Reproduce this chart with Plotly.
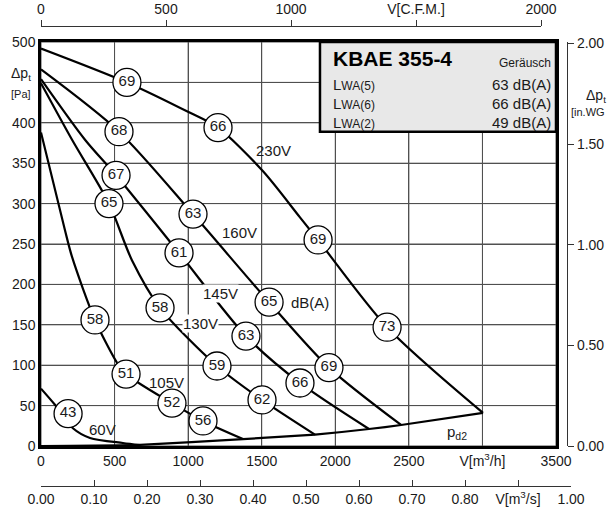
import plotly.graph_objects as go

# ---------------- data ----------------
# characteristic curves: volume flow V [m3/h] vs total pressure dp_t [Pa]
v230_V = [0, 584, 1006, 1203, 1509, 1760, 1883, 2352, 3004]
v230_P = [492, 450, 413, 394, 340, 283, 255, 147, 41]

v160_V = [0, 530, 1033, 1550, 1957, 2447]
v160_P = [466, 389, 287, 178, 97, 26]

v145_V = [0, 299, 510, 938, 1393, 1760, 2229]
v145_P = [454, 379, 335, 239, 136, 78, 21]

v130_V = [0, 211, 462, 618, 809, 1196, 1502, 1862]
v130_P = [449, 379, 300, 230, 171, 99, 57, 14]

v105_V = [0, 163, 211, 367, 517, 578, 890, 1101, 1373]
v105_P = [388, 267, 234, 156, 103, 89, 53, 31, 8.6]

v60_V = [0, 95, 217, 333, 557, 673]
v60_P = [71, 51, 22, 10, 3.7, 1.2]

# dynamic pressure line p_d2
pd2_V = [0, 673, 1373, 1862, 2229, 2447, 3004]
pd2_P = [0, 1.5, 8.6, 14, 21, 26, 41]

# sound level markers dB(A)
snd_V = [584, 1203, 1883, 2352, 530, 1033, 1550, 1957, 510, 938, 1393, 1760,
         462, 809, 1196, 1502, 367, 578, 890, 1101, 184]
snd_P = [450, 394, 255, 147, 389, 287, 178, 97, 335, 239, 136, 78,
         300, 171, 99, 57, 156, 89, 53, 31, 40]
snd_L = ["69", "66", "69", "73", "68", "63", "65", "69", "67", "61", "63", "66",
         "65", "58", "59", "62", "58", "51", "52", "56", "43"]

# voltage labels
volt_txt = ["230V", "160V", "145V", "130V", "105V", "60V"]
volt_V = [1577, 1352, 1217, 1081, 856, 421]
volt_P = [366, 264, 189, 151, 79, 21]
volt_bg = [False, False, True, True, False, False]

# axes
x_ticks = [0, 500, 1000, 1500, 2000, 2500, 3000, 3500]
x_text = ["0", "500", "1000", "1500", "2000", "2500", "V[m<sup>3</sup>/h]", "3500"]
y_ticks = [0, 50, 100, 150, 200, 250, 300, 350, 400, 450, 500]
y_text = ["0", "50", "100", "150", "200", "250", "300", "350", "400", "", "500"]
cfm_ticks = [0, 500, 1000, 1500, 2000]
cfm_text = ["0", "500", "1000", "V[C.F.M.]", "2000"]
ms_ticks = [0, 0.1, 0.2, 0.3, 0.4, 0.5, 0.6, 0.7, 0.8, 0.9, 1.0]
ms_text = ["0.00", "0.10", "0.20", "0.30", "0.40", "0.50", "0.60", "0.70", "0.80",
           "V[m<sup>3</sup>/s]", "1.00"]
wg_ticks = [0, 0.5, 1.0, 1.5, 2.0]
wg_text = ["0.00", "0.50", "1.00", "1.50", "2.00"]

# info box
box_title = "KBAE 355-4"
box_sub = "Geräusch"
box_rows = ["(5)", "(6)", "(2)"]
box_vals = ["63 dB(A)", "66 dB(A)", "49 dB(A)"]

# ---------------- figure ----------------
W, H = 611, 513
FONT = "Liberation Sans, Arial, sans-serif"
TXT = "#1a1a1a"
GRID = "#505050"


def px(x):
    return x / W


def py(y):
    return 1 - y / H


fig = go.Figure()

# grid built from the tick arrays (drawn first, beneath the curves)
grid_x, grid_y = [], []
for xv in x_ticks:
    grid_x += [xv, xv, None]
    grid_y += [y_ticks[0], y_ticks[-1], None]
for yv in y_ticks:
    grid_x += [x_ticks[0], x_ticks[-1], None]
    grid_y += [yv, yv, None]
fig.add_trace(go.Scatter(x=grid_x, y=grid_y, mode="lines",
                         line=dict(color=GRID, width=1),
                         hoverinfo="skip", showlegend=False))

line_style = dict(color="black", width=2.2, shape="spline", smoothing=0.8)
for vv, pp in [(v230_V, v230_P), (v160_V, v160_P), (v145_V, v145_P),
               (v130_V, v130_P), (v105_V, v105_P), (v60_V, v60_P)]:
    fig.add_trace(go.Scatter(x=vv, y=pp, mode="lines", line=line_style,
                             hoverinfo="skip", showlegend=False))

fig.add_trace(go.Scatter(x=pd2_V, y=pd2_P, mode="lines",
                         line=dict(color="black", width=2.2, shape="spline", smoothing=0.4),
                         hoverinfo="skip", showlegend=False))

fig.add_trace(go.Scatter(x=snd_V, y=snd_P, mode="markers+text", text=snd_L,
                         textposition="middle center",
                         textfont=dict(family=FONT, size=15, color=TXT),
                         marker=dict(size=28, color="white",
                                     line=dict(color="black", width=1.3)),
                         hoverinfo="skip", showlegend=False))

# dummy traces to bind secondary axes (each on its own thin strip subplot)
fig.add_trace(go.Scatter(x=[None], y=[None], xaxis="x2", yaxis="y3", showlegend=False))
fig.add_trace(go.Scatter(x=[None], y=[None], xaxis="x3", yaxis="y4", showlegend=False))
fig.add_trace(go.Scatter(x=[None], y=[None], xaxis="x4", yaxis="y2", showlegend=False))

tickfont = dict(family=FONT, size=14, color=TXT)
hidden = dict(visible=False, range=[0, 1], fixedrange=True, automargin=False,
              showgrid=False, zeroline=False)

fig.update_layout(
    template="none",
    width=W, height=H,
    margin=dict(l=0, r=0, t=0, b=0, pad=0, autoexpand=False),
    paper_bgcolor="white",
    plot_bgcolor="white",
    showlegend=False,
    xaxis=dict(domain=[px(41), px(556)], range=[0, 3500], anchor="y",
               tickmode="array", tickvals=x_ticks, ticktext=x_text,
               showgrid=True, gridcolor=GRID, gridwidth=1,
               showline=True, mirror=True, linecolor="black", linewidth=2.5,
               ticks="", tickfont=tickfont, zeroline=False, fixedrange=True,
               automargin=False),
    yaxis=dict(domain=[py(446), py(42)], range=[0, 500], anchor="x",
               tickmode="array", tickvals=y_ticks, ticktext=y_text,
               showgrid=True, gridcolor=GRID, gridwidth=1,
               showline=True, mirror=True, linecolor="black", linewidth=2.5,
               ticks="", tickfont=tickfont, zeroline=False, fixedrange=True,
               automargin=False),
    yaxis3=dict(domain=[py(28), py(27)], anchor="x2", **hidden),
    yaxis4=dict(domain=[py(486), py(485)], anchor="x3", **hidden),
    xaxis4=dict(domain=[px(566), px(567)], anchor="y2", **hidden),
    xaxis2=dict(domain=[px(41), px(541)], range=[0, 2000], anchor="y3",
                side="top",
                tickmode="array", tickvals=cfm_ticks, ticktext=cfm_text,
                showgrid=False, zeroline=False, showline=True,
                linecolor="#333333", linewidth=1.2,
                ticks="outside", ticklen=6, tickcolor="#333333",
                tickfont=tickfont, fixedrange=True, automargin=False),
    xaxis3=dict(domain=[px(41), px(571)], range=[0, 1.0], anchor="y4",
                side="bottom",
                tickmode="array", tickvals=ms_ticks, ticktext=ms_text,
                showgrid=False, zeroline=False, showline=True,
                linecolor="#333333", linewidth=1.2,
                ticks="inside", ticklen=6, tickcolor="#333333",
                tickfont=tickfont, fixedrange=True, automargin=False),
    yaxis2=dict(domain=[py(446), py(42)], range=[0, 500 / 249.089], anchor="x4",
                side="right",
                tickmode="array", tickvals=wg_ticks, ticktext=wg_text,
                showgrid=False, zeroline=False, showline=True,
                linecolor="#333333", linewidth=1.2,
                ticks="outside", ticklen=6, tickcolor="#333333",
                tickfont=tickfont, fixedrange=True, automargin=False),
)

# info box
fig.add_shape(type="rect", xref="x", yref="y", x0=1896, x1=3500, y0=389, y1=500,
              fillcolor="#e8e8e8", line=dict(color="black", width=2.5), layer="above")

ann = []
ann.append(dict(text="<b>" + box_title + "</b>", x=px(331), y=py(59), xref="paper", yref="paper",
                xanchor="left", yanchor="middle", showarrow=False,
                font=dict(family=FONT, size=21, color="black")))
ann.append(dict(text=box_sub, x=px(553), y=py(63), xref="paper", yref="paper",
                xanchor="right", yanchor="middle", showarrow=False,
                font=dict(family=FONT, size=12, color=TXT)))
for i, (r, v) in enumerate(zip(box_rows, box_vals)):
    yy = 84 + i * 19.5
    ann.append(dict(text="L<span style='font-size:12px'>WA" + r + "</span>",
                    x=px(331), y=py(yy), xref="paper", yref="paper",
                    xanchor="left", yanchor="middle", showarrow=False,
                    font=dict(family=FONT, size=15, color=TXT)))
    ann.append(dict(text=v, x=px(553), y=py(yy), xref="paper", yref="paper",
                    xanchor="right", yanchor="middle", showarrow=False,
                    font=dict(family=FONT, size=15, color=TXT)))

# axis titles
ann.append(dict(text="Δp<sub>t</sub>", x=px(21), y=py(74), xref="paper", yref="paper",
                xanchor="center", yanchor="middle", showarrow=False,
                font=dict(family=FONT, size=14, color=TXT)))
ann.append(dict(text="[Pa]", x=px(21), y=py(94), xref="paper", yref="paper",
                xanchor="center", yanchor="middle", showarrow=False,
                font=dict(family=FONT, size=11, color=TXT)))
ann.append(dict(text="Δp<sub>t</sub>", x=px(596), y=py(96), xref="paper", yref="paper",
                xanchor="center", yanchor="middle", showarrow=False,
                font=dict(family=FONT, size=14, color=TXT)))
ann.append(dict(text="[in.WG", x=px(569), y=py(112), xref="paper", yref="paper",
                xanchor="left", yanchor="middle", showarrow=False,
                font=dict(family=FONT, size=11, color=TXT)))

# voltage labels
for t, vx, vy, bg in zip(volt_txt, volt_V, volt_P, volt_bg):
    ann.append(dict(text=t, x=vx, y=vy, xref="x", yref="y", showarrow=False,
                    xanchor="center", yanchor="middle",
                    bgcolor="white" if bg else "rgba(0,0,0,0)", borderpad=0,
                    font=dict(family=FONT, size=15, color=TXT)))

ann.append(dict(text="dB(A)", x=1828, y=178, xref="x", yref="y", showarrow=False,
                xanchor="center", yanchor="middle",
                font=dict(family=FONT, size=15, color=TXT)))
ann.append(dict(text="p<sub>d2</sub>", x=2827, y=17, xref="x", yref="y", showarrow=False,
                xanchor="center", yanchor="middle",
                font=dict(family=FONT, size=15, color=TXT)))

fig.update_layout(annotations=ann)

fig.write_html("out.html", config={"displayModeBar": False},
               post_script="document.body.style.margin='0px';")
